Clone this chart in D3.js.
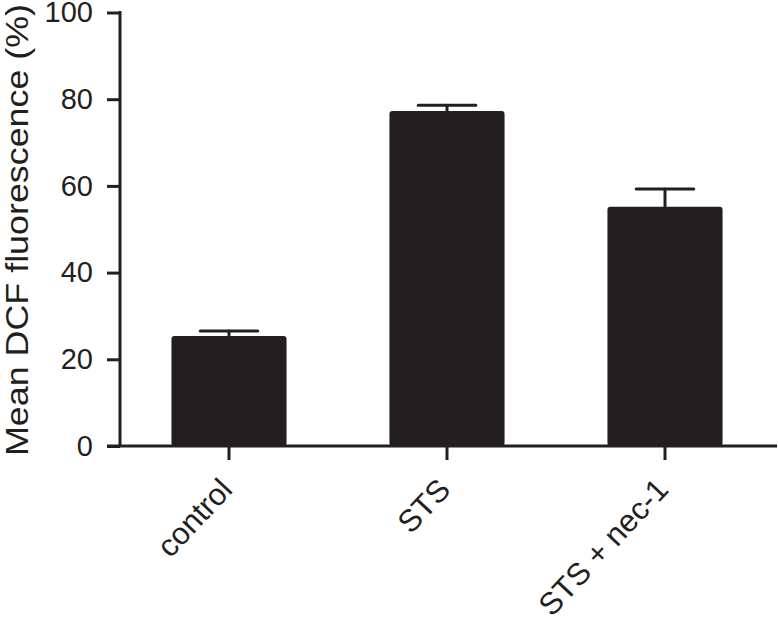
<!DOCTYPE html>
<html>
<head>
<meta charset="utf-8">
<script src="https://cdn.jsdelivr.net/npm/d3@7"></script>
<style>
  html, body { margin: 0; padding: 0; background: #fff; }
  svg { display: block; }
  text { font-family: "Liberation Sans", Arial, Helvetica, sans-serif; fill: #231f20; }
</style>
</head>
<body>
<svg id="chart" width="778" height="633"></svg>
<script>
const categories = ["control", "STS", "STS + nec-1"];
const means = [25.4, 77.3, 55.2];
const errors = [1.1, 1.3, 4.1];
const yTicks = [0, 20, 40, 60, 80, 100];
const yTitle = "Mean DCF fluorescence (%)";

const ink = "#231f20";
const svg = d3.select("#chart");

const y = d3.scaleLinear().domain([0, 100]).range([446, 12.5]);
const x = d3.scaleBand().domain(categories).range([120, 774])
  .paddingInner(0.472).paddingOuter(0.236);

// bars
svg.append("g").selectAll("rect").data(categories).join("rect")
  .attr("x", d => x(d))
  .attr("y", (d, i) => y(means[i]))
  .attr("width", x.bandwidth())
  .attr("height", (d, i) => y(0) - y(means[i]))
  .attr("rx", 3)
  .attr("fill", ink);

// error bars
const eb = svg.append("g").attr("stroke", ink).attr("stroke-width", 3).attr("stroke-linecap", "round");
categories.forEach((c, i) => {
  const cx = x(c) + x.bandwidth() / 2;
  eb.append("line").attr("x1", cx).attr("x2", cx).attr("y1", y(means[i])).attr("y2", y(means[i] + errors[i]));
  eb.append("line").attr("x1", cx - x.bandwidth() / 4).attr("x2", cx + x.bandwidth() / 4)
    .attr("y1", y(means[i] + errors[i])).attr("y2", y(means[i] + errors[i]));
});

// y axis
const yAxis = d3.axisLeft(y).tickValues(yTicks).tickSize(13).tickPadding(14);
const gy = svg.append("g").attr("transform", "translate(120,0)").call(yAxis);
gy.select(".domain").remove();
gy.selectAll(".tick line").attr("stroke", ink).attr("stroke-width", 3);
gy.selectAll(".tick text").attr("font-size", 29).attr("fill", ink)
  .style("font-family", "'Liberation Sans', Arial, sans-serif");
svg.append("line").attr("x1", 120).attr("x2", 120).attr("y1", y(100) - 1.5).attr("y2", y(0))
  .attr("stroke", ink).attr("stroke-width", 3);

// x axis
const xAxis = d3.axisBottom(x).tickSize(14).tickSizeOuter(0).tickFormat("");
const gx = svg.append("g").attr("transform", `translate(0,${y(0)})`).call(xAxis);
gx.select(".domain").remove();
gx.selectAll(".tick line").attr("stroke", ink).attr("stroke-width", 3);
svg.append("line").attr("x1", 107).attr("x2", 777).attr("y1", y(0)).attr("y2", y(0))
  .attr("stroke", ink).attr("stroke-width", 3);

// x labels rotated
svg.append("g").selectAll("text").data(categories).join("text")
  .attr("transform", d => `translate(${x(d) + x.bandwidth() / 2 + 5},${y(0) + 45}) rotate(-47)`)
  .attr("text-anchor", "end")
  .attr("font-size", 31)
  .text(d => d);

// y title
svg.append("text")
  .attr("transform", `translate(28,230) rotate(-90)`)
  .attr("text-anchor", "middle")
  .attr("font-size", 31)
  .attr("textLength", 452)
  .attr("lengthAdjust", "spacingAndGlyphs")
  .text(yTitle);
</script>
</body>
</html>
